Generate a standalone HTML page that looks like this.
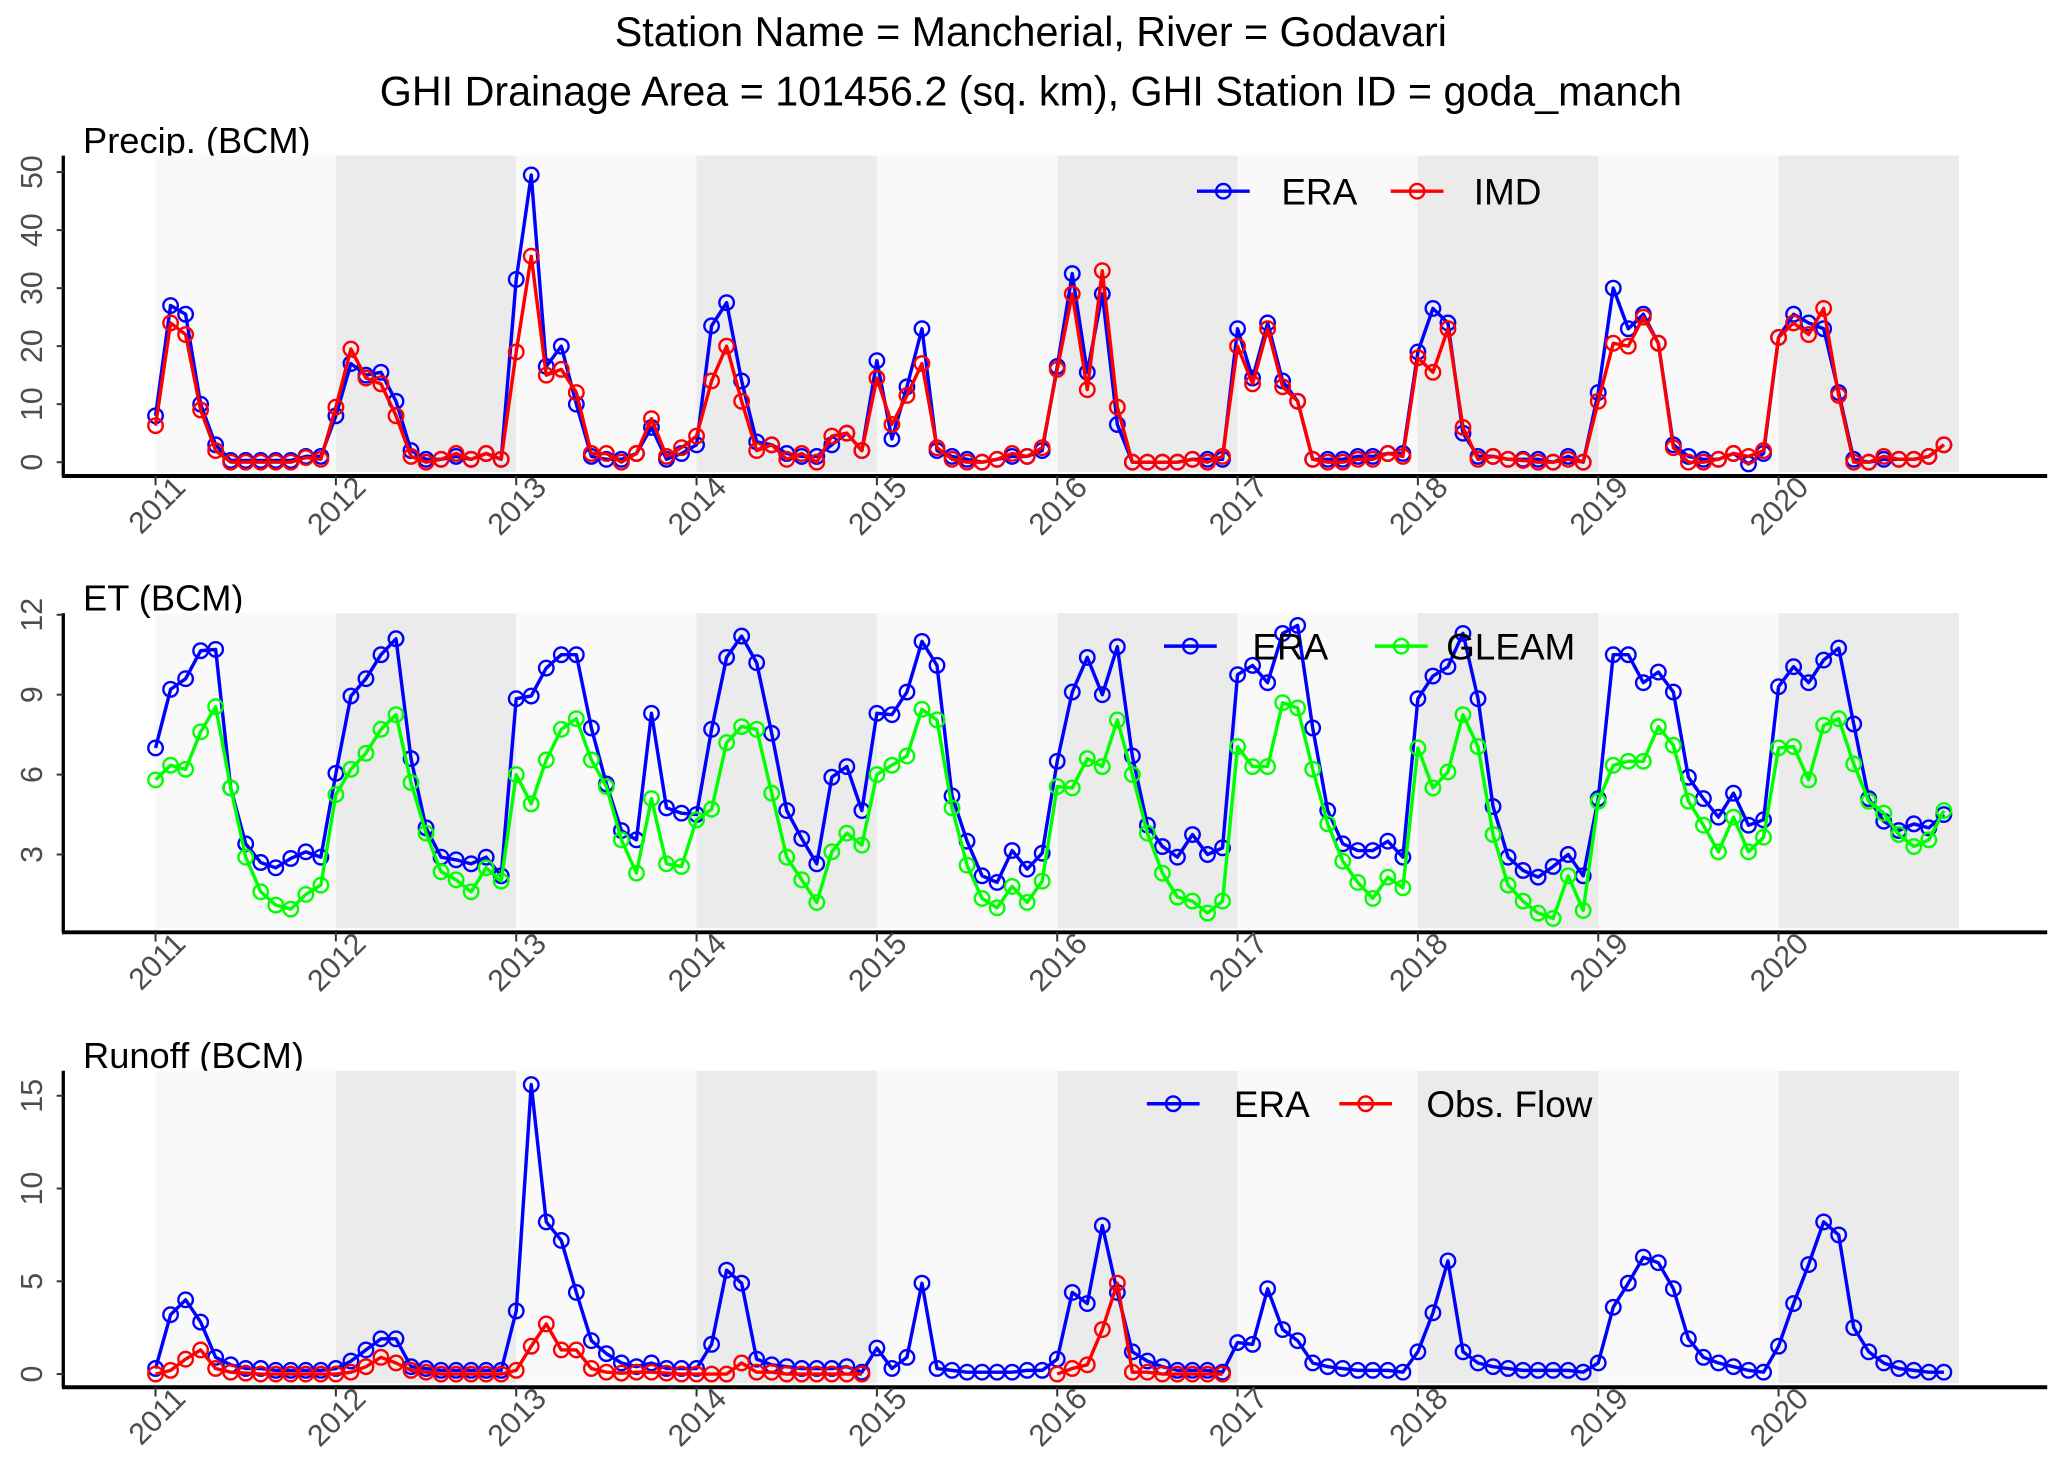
<!DOCTYPE html>
<html><head><meta charset="utf-8"><style>
html,body{margin:0;padding:0;background:#fff;}
svg{display:block;font-family:"Liberation Sans",Arial,sans-serif;}
</style></head><body>
<svg id="chart" width="2067" height="1469" viewBox="0 0 1568 1114" preserveAspectRatio="none" xmlns="http://www.w3.org/2000/svg">
<text x="782" y="35" text-anchor="middle" font-size="31.3">Station Name = Mancherial, River = Godavari</text>
<text x="782" y="80" text-anchor="middle" font-size="31.3">GHI Drainage Area = 101456.2 (sq. km), GHI Station ID = goda_manch</text>
</svg>
<script>
const years = [2011,2012,2013,2014,2015,2016,2017,2018,2019,2020];
const precipEra = [8,27,25.5,10,3,0.3,0.3,0.3,0.3,0.3,1,1,
8,17,15,15.5,10.5,2,0.5,0.5,1,0.5,1.5,0.5,
31.5,49.5,16.5,20,10,1,0.5,0.5,1.5,6,0.5,1.5,
3,23.5,27.5,14,3.5,3,1.5,1,1,3,5,2,
17.5,4,13,23,2,1,0.5,0,0.5,1,1,2,
16.5,32.5,15.5,29,6.5,0,0,0,0,0.5,0.5,0.5,
23,14.5,24,14,10.5,0.5,0.5,0.5,1,1,1.5,1.5,
19,26.5,24,5,1,1,0.5,0.5,0.5,0,1,0,
12,30,23,25.5,20.5,3,1,0.5,0.5,1.5,-0.3,1.5,
21.5,25.5,24,23,12,0.5,0,0.5,0.5,0.5,1,3];
const precipImd = [6.3,24,22,9,2,0,0,0,0,0,0.8,0.5,
9.5,19.5,14.5,13.5,8,1,0,0.5,1.5,0.5,1.5,0.5,
19,35.5,15,16,12,1.5,1.5,0,1.5,7.5,1,2.5,
4.5,14,20,10.5,2,3,0.5,1.5,0,4.5,5,2,
14.5,6.5,11.5,17,2.5,0.5,0,0,0.5,1.5,1,2.5,
16,29,12.5,33,9.5,0,0,0,0,0.5,0,1,
20,13.5,23,13,10.5,0.5,0,0,0.5,0.5,1.5,1,
18,15.5,23,6,0.5,1,0.5,0.3,0,0,0.5,0,
10.5,20.5,20,25,20.5,2.5,0,0,0.5,1.5,1,2,
21.5,24,22,26.5,11.5,0,0,1,0.5,0.5,1,3];
const etEra = [7.0,9.2,9.6,10.65,10.7,5.5,3.4,2.7,2.5,2.85,3.1,2.9,
6.05,8.95,9.6,10.5,11.1,6.6,4.0,2.9,2.8,2.65,2.9,2.2,
8.85,8.95,10.0,10.5,10.5,7.75,5.65,3.9,3.55,8.3,4.75,4.55,
4.5,7.7,10.4,11.2,10.2,7.55,4.65,3.6,2.65,5.9,6.3,4.65,
8.3,8.25,9.1,11.0,10.1,5.2,3.5,2.2,1.95,3.15,2.45,3.05,
6.5,9.1,10.4,9.0,10.8,6.7,4.1,3.3,2.9,3.75,3.0,3.25,
9.75,10.1,9.45,11.3,11.6,7.75,4.65,3.4,3.15,3.15,3.5,2.9,
8.85,9.7,10.05,11.3,8.85,4.8,2.9,2.4,2.15,2.55,3.0,2.2,
5.1,10.5,10.5,9.45,9.85,9.1,5.9,5.1,4.4,5.3,4.1,4.3,
9.3,10.05,9.45,10.3,10.75,7.9,5.1,4.25,3.9,4.15,4.0,4.5];
const etGleam = [5.8,6.35,6.2,7.6,8.55,5.5,2.9,1.6,1.1,0.95,1.5,1.85,
5.25,6.2,6.8,7.7,8.25,5.7,3.8,2.35,2.05,1.6,2.5,2.0,
6.0,4.9,6.55,7.7,8.1,6.55,5.55,3.55,2.3,5.1,2.65,2.55,
4.3,4.7,7.2,7.8,7.7,5.3,2.9,2.05,1.2,3.1,3.8,3.35,
6.0,6.35,6.7,8.45,8.05,4.75,2.6,1.35,1.0,1.8,1.2,2.0,
5.55,5.5,6.6,6.3,8.05,6.0,3.8,2.3,1.4,1.25,0.8,1.25,
7.05,6.3,6.3,8.7,8.5,6.2,4.15,2.75,1.95,1.35,2.15,1.75,
7.0,5.5,6.1,8.25,7.05,3.75,1.85,1.25,0.8,0.6,2.2,0.9,
5.0,6.35,6.5,6.5,7.8,7.1,5.0,4.1,3.1,4.4,3.1,3.65,
7.0,7.05,5.8,7.85,8.1,6.4,5.0,4.55,3.75,3.3,3.55,4.65];
const runoffEra = [0.3,3.2,4.0,2.8,0.9,0.5,0.3,0.3,0.2,0.2,0.2,0.2,
0.3,0.7,1.3,1.9,1.9,0.4,0.3,0.2,0.2,0.2,0.2,0.2,
3.4,15.6,8.2,7.2,4.4,1.8,1.1,0.6,0.4,0.6,0.3,0.3,
0.3,1.6,5.6,4.9,0.8,0.5,0.4,0.3,0.3,0.3,0.4,0.1,
1.4,0.3,0.9,4.9,0.3,0.2,0.1,0.1,0.1,0.1,0.2,0.2,
0.8,4.4,3.8,8.0,4.4,1.2,0.7,0.4,0.2,0.2,0.2,0.1,
1.7,1.6,4.6,2.4,1.8,0.6,0.4,0.3,0.2,0.2,0.2,0.1,
1.2,3.3,6.1,1.2,0.6,0.4,0.3,0.2,0.2,0.2,0.2,0.1,
0.6,3.6,4.9,6.3,6.0,4.6,1.9,0.9,0.6,0.4,0.2,0.1,
1.5,3.8,5.9,8.2,7.5,2.5,1.2,0.6,0.3,0.2,0.1,0.1];
const runoffObs = [0,0.2,0.8,1.3,0.3,0.1,0.05,0,0,0,0,0,
0,0.1,0.4,0.9,0.6,0.2,0.1,0,0,0,0,0,
0.2,1.5,2.7,1.3,1.3,0.3,0.1,0.05,0.1,0.1,0.05,0,
0,0,0,0.6,0.1,0.1,0,0,0,0,0,0,
null,null,null,null,null,null,null,null,null,null,null,null,
0,0.3,0.5,2.4,4.9,0.1,0.1,0,0,0,0,0,
null,null,null,null,null,null,null,null,null,null,null,null,
null,null,null,null,null,null,null,null,null,null,null,null,
null,null,null,null,null,null,null,null,null,null,null,null,
null,null,null,null,null,null,null,null,null,null,null,null];
const precipTicks = [0,10,20,30,40,50];
const etTicks = [3,6,9,12];
const runoffTicks = [0,5,10,15];

const svg = document.getElementById('chart');
const NS = 'http://www.w3.org/2000/svg';
function mk(tag, attrs, parent){
  const e = document.createElementNS(NS, tag);
  for (const k in attrs) e.setAttribute(k, attrs[k]);
  (parent||svg).appendChild(e);
  return e;
}
const X0 = 118, YEARW = 136.8;
function xScale(i){ return X0 + i * YEARW / 12; }

function panel(cfg){
  const g = mk('g', {});
  
  
  const lab = mk('text', {x:63, y:cfg.top-2, 'font-size':27.5}, g);
  lab.textContent = cfg.label;
  
  
  const yS = v => cfg.y0px - (v - cfg.v0) * cfg.pxPer;
  years.forEach((yr, k) => {
    const x1 = X0 + k*YEARW;
    const r = mk('rect', {x:x1, y:cfg.top, width:YEARW, height:cfg.bottom-cfg.top, fill: k%2 ? '#ebebeb' : '#f9f9f9'}, g);
    
    
  });
  const ya = mk('line', {x1:48, y1:cfg.top, x2:48, y2:cfg.bottom+3, stroke:'#000', 'stroke-width':2.5}, g);
  
  
  const xa = mk('line', {x1:47, y1:cfg.bottom+3, x2:1553, y2:cfg.bottom+3, stroke:'#000', 'stroke-width':3}, g);
  
  
  cfg.ticks.forEach(t => {
    const y = yS(t);
    mk('line', {x1:43, y1:y, x2:48, y2:y, stroke:'#333', 'stroke-width':1.5}, g);
    const tl = mk('text', {x:0, y:0, 'font-size':23, fill:'#4d4d4d', 'text-anchor':'middle', transform:`translate(32,${y}) rotate(-90)`}, g);
    tl.textContent = t;
    
    
  });
  years.forEach((yr, k) => {
    const x = X0 + k*YEARW;
    mk('line', {x1:x, y1:cfg.bottom+3, x2:x, y2:cfg.bottom+10, stroke:'#333', 'stroke-width':1.5}, g);
    const tl = mk('text', {x:0, y:0, 'font-size':23, fill:'#4d4d4d', 'text-anchor':'end', transform:`translate(${x+24},${cfg.bottom+13}) rotate(-45)`}, g);
    tl.textContent = yr;
    
    
  });
  cfg.series.forEach(s => {
    let d = '', pen = false;
    s.data.forEach((v, i) => {
      if (v === null) { pen = false; return; }
      d += (pen ? 'L' : 'M') + xScale(i).toFixed(1) + ',' + yS(v).toFixed(1);
      pen = true;
    });
    const p = mk('path', {d, fill:'none', stroke:s.color, 'stroke-width':2.6, 'stroke-linejoin':'round'}, g);
    
    
    s.data.forEach((v, i) => {
      if (v === null) return;
      const c = mk('circle', {cx:xScale(i), cy:yS(v), r:5.5, fill:'none', stroke:s.color, 'stroke-width':1.8}, g);
      
      
    });
  });
  cfg.legend.forEach(l => {
    const lg = mk('g', {}, g);
    
    
    mk('line', {x1:l.x, y1:cfg.legY, x2:l.x+40, y2:cfg.legY, stroke:l.color, 'stroke-width':2.6}, lg);
    mk('circle', {cx:l.x+20, cy:cfg.legY, r:5.5, fill:'none', stroke:l.color, 'stroke-width':1.8}, lg);
    const t = mk('text', {x:l.tx, y:cfg.legY+10, 'font-size':28}, lg);
    t.textContent = l.text;
  });
}

panel({name:'precip', label:'Precip. (BCM)', top:118, bottom:358, y0px:350.5, v0:0, pxPer:4.4, ticks:precipTicks,
  series:[{key:'era', color:'#0000ff', data:precipEra},{key:'imd', color:'#ff0000', data:precipImd}],
  legY:145, legend:[{key:'era', x:908, tx:972, color:'#0000ff', text:'ERA'},{key:'imd', x:1055, tx:1118, color:'#ff0000', text:'IMD'}]});
panel({name:'et', label:'ET (BCM)', top:465, bottom:704, y0px:648, v0:3, pxPer:20.2, ticks:etTicks,
  series:[{key:'era', color:'#0000ff', data:etEra},{key:'gleam', color:'#00ff00', data:etGleam}],
  legY:490, legend:[{key:'et-era', x:883, tx:950, color:'#0000ff', text:'ERA'},{key:'gleam', x:1043, tx:1097, color:'#00ff00', text:'GLEAM'}]});
panel({name:'runoff', label:'Runoff (BCM)', top:812, bottom:1049, y0px:1042, v0:0, pxPer:14.07, ticks:runoffTicks,
  series:[{key:'era', color:'#0000ff', data:runoffEra},{key:'obs', color:'#ff0000', data:runoffObs}],
  legY:837, legend:[{key:'runoff-era', x:870, tx:936, color:'#0000ff', text:'ERA'},{key:'obs-flow', x:1016, tx:1082, color:'#ff0000', text:'Obs. Flow'}]});
</script>
</body></html>
